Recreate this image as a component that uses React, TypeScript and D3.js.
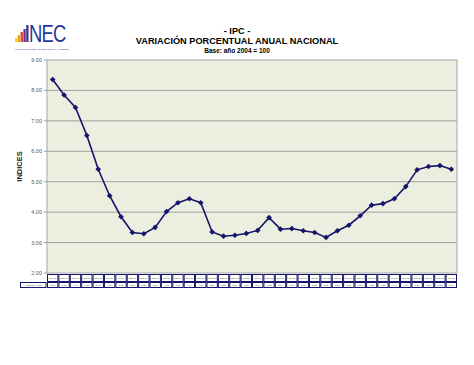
import React from 'react';
import * as d3 from 'd3';

// Meses (ene-09 ... dic-11)
const months = [
  'ene-09', 'feb-09', 'mar-09', 'abr-09', 'may-09', 'jun-09', 'jul-09', 'ago-09', 'sep-09', 'oct-09', 'nov-09', 'dic-09',
  'ene-10', 'feb-10', 'mar-10', 'abr-10', 'may-10', 'jun-10', 'jul-10', 'ago-10', 'sep-10', 'oct-10', 'nov-10', 'dic-10',
  'ene-11', 'feb-11', 'mar-11', 'abr-11', 'may-11', 'jun-11', 'jul-11', 'ago-11', 'sep-11', 'oct-11', 'nov-11', 'dic-11',
];

// Variación porcentual anual
const values = [
  8.36, 7.85, 7.44, 6.52, 5.41, 4.54, 3.85, 3.33, 3.29, 3.50, 4.02, 4.31,
  4.44, 4.31, 3.35, 3.21, 3.24, 3.30, 3.40, 3.82, 3.44, 3.46, 3.39, 3.33,
  3.17, 3.39, 3.57, 3.88, 4.23, 4.28, 4.44, 4.84, 5.39, 5.50, 5.53, 5.41,
];

const yTicks = [2, 3, 4, 5, 6, 7, 8, 9];
const logoBars = [
  { h: 4, c: '#f5d31a' },
  { h: 7, c: '#f39a1a' },
  { h: 10, c: '#e2411d' },
  { h: 13, c: '#7a2a8c' },
  { h: 17, c: '#2b3a9a' },
];

const navy = '#14146b';

export default function App() {
  const left = 47;
  const right = 457;
  const top = 60;
  const bottom = 273;

  const x = d3.scaleBand<string>().domain(months).range([left, right]);
  const y = d3.scaleLinear().domain([2, 9]).range([bottom, top]);

  const line = d3
    .line<number>()
    .x((_, i) => (x(months[i]) as number) + x.bandwidth() / 2)
    .y((d) => y(d));

  // rombo simétrico (cuadrado girado)
  const marker = d3.symbol().type(d3.symbolSquare).size(16)();

  const row1 = [274, 281];
  const row2 = [282, 287];

  return (
    <svg
      width={474}
      height={365}
      style={{ position: 'absolute', left: 0, top: 0, background: '#fff' }}
      fontFamily="Liberation Sans, Arial, sans-serif"
    >
      {/* logo */}
      <g>
        {logoBars.map((b, i) => (
          <rect key={i} x={15 + i * 2.8} y={42 - b.h} width={2.3} height={b.h} fill={b.c} />
        ))}
        <text
          transform="translate(29,42) scale(0.8,1)"
          fontSize={23}
          fill="#27379a"
          style={{ letterSpacing: '-1px' }}
        >
          NEC
        </text>
        <text x={15} y={49.5} fontSize={2.2} fill="#27379a">
          INSTITUTO NACIONAL DE ESTADÍSTICA Y CENSOS
        </text>
      </g>

      {/* titles */}
      <text x={237} y={34} textAnchor="middle" fontSize={9.2} fontWeight="bold">
        - IPC -
      </text>
      <text x={237} y={44} textAnchor="middle" fontSize={9.2} fontWeight="bold">
        VARIACIÓN PORCENTUAL ANUAL NACIONAL
      </text>
      <text x={237} y={53} textAnchor="middle" fontSize={6.5} fontWeight="bold">
        Base: año 2004 = 100
      </text>

      {/* plot area */}
      <rect x={left} y={top} width={right - left} height={bottom - top} fill="#eceedf" stroke="#a8a8a8" />
      {yTicks.map((t) => (
        <g key={t}>
          {t > 2 && t < 9 && (
            <line x1={left} x2={right} y1={y(t)} y2={y(t)} stroke="#a0a0a0" strokeWidth={1} />
          )}
          <line x1={left - 3} x2={left} y1={y(t)} y2={y(t)} stroke="#a0a0a0" />
          <text x={42} y={y(t) + 2} textAnchor="end" fontSize={5.5} fill="#555">
            {t.toFixed(2)}
          </text>
        </g>
      ))}
      <text
        transform={`translate(22,${(top + bottom) / 2}) rotate(-90)`}
        textAnchor="middle"
        fontSize={7.5}
        fontWeight="bold"
        fill="#222"
      >
        INDICES
      </text>

      {/* series */}
      <path d={line(values) as string} fill="none" stroke={navy} strokeWidth={1.6} />
      {values.map((v, i) => (
        <path
          key={i}
          d={marker as string}
          transform={`translate(${(x(months[i]) as number) + x.bandwidth() / 2},${y(v)}) rotate(45)`}
          fill={navy}
        />
      ))}

      {/* data table */}
      <rect x={20.5} y={row2[0] + 0.5} width={left - 21.5} height={row2[1] - row2[0]} fill="#fff" stroke={navy} strokeWidth={1} />
      <text x={33.5} y={row2[1] - 1.3} textAnchor="middle" fontSize={2.4} fill="#333">
        Variación Anual
      </text>
      {months.map((m, i) => {
        const cx = x(m) as number;
        const w = x.bandwidth();
        return (
          <g key={m}>
            <rect x={cx + 0.5} y={row1[0] + 0.5} width={w - 1} height={row1[1] - row1[0]} fill="#fff" stroke={navy} strokeWidth={1} />
            <text x={cx + w / 2} y={row1[0] + 5} textAnchor="middle" fontSize={2.4} fill="#333">
              {m}
            </text>
            <rect x={cx + 0.5} y={row2[0] + 0.5} width={w - 1} height={row2[1] - row2[0]} fill="#fff" stroke={navy} strokeWidth={1} />
            <text x={cx + w / 2} y={row2[1] - 1.3} textAnchor="middle" fontSize={2.4} fill="#333">
              {values[i].toFixed(2)}
            </text>
          </g>
        );
      })}
    </svg>
  );
}
